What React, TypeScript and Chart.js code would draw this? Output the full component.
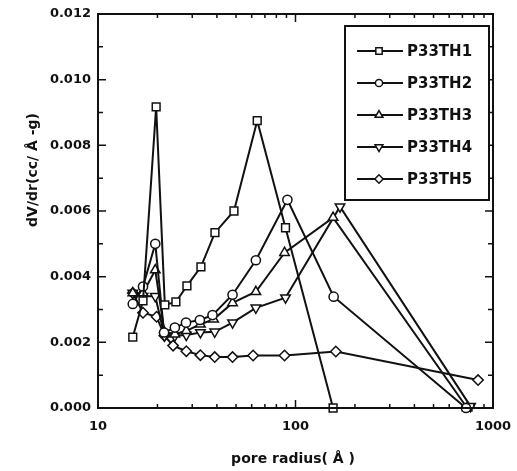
import React, { useEffect, useRef } from 'react';
import { Chart, registerables } from 'chart.js';
import { drawPoint } from 'chart.js/helpers';

Chart.register(...registerables);

const seriesNames = ['P33TH1', 'P33TH2', 'P33TH3', 'P33TH4', 'P33TH5'];

const th1Radius = [15, 16.9, 19.7, 21.8, 24.8, 28.2, 33.2, 39.1, 48.8, 64, 89, 155];
const th1Values = [0.00216, 0.00326, 0.00917, 0.00314, 0.00323, 0.00372, 0.0043, 0.00534, 0.006, 0.00875, 0.00549, 0.0];

const th2Radius = [15, 16.9, 19.5, 21.6, 24.5, 27.9, 32.8, 38, 48, 63, 91, 156, 730];
const th2Values = [0.00317, 0.0037, 0.005, 0.0023, 0.00245, 0.0026, 0.00268, 0.00283, 0.00345, 0.0045, 0.00634, 0.00339, 0.0];

const th3Radius = [15, 16.9, 19.5, 21.7, 24.5, 28, 33, 38.5, 48, 63, 88, 155, 740];
const th3Values = [0.0035, 0.0035, 0.0042, 0.0023, 0.00225, 0.00235, 0.00255, 0.0027, 0.0032, 0.00354, 0.00473, 0.0058, 0.0];

const th4Radius = [15, 16.9, 19.5, 21.7, 24.5, 28, 33, 39, 48, 63, 89, 168, 770];
const th4Values = [0.0035, 0.0034, 0.0034, 0.0022, 0.0022, 0.00222, 0.0023, 0.00232, 0.0026, 0.00305, 0.00336, 0.00613, 0.00005];

const th5Radius = [15, 16.9, 19.8, 21.7, 24, 28, 33, 39, 48, 61, 88, 160, 840];
const th5Values = [0.0035, 0.0029, 0.00278, 0.0022, 0.0019, 0.00173, 0.00161, 0.00155, 0.00155, 0.0016, 0.0016, 0.00172, 0.00085];

const xTickValues = [10, 100, 1000];
const yTickValues = [0, 0.002, 0.004, 0.006, 0.008, 0.01, 0.012];

const xTitle = 'pore radius( Å )';
const yTitle = 'dV/dr(cc/ Å -g)';

const markerStyles = [
  { pointStyle: 'rect', radius: 5.5, rotation: 0 },
  { pointStyle: 'circle', radius: 4.6, rotation: 0 },
  { pointStyle: 'triangle', radius: 5.5, rotation: 0 },
  { pointStyle: 'triangle', radius: 5.5, rotation: 180 },
  { pointStyle: 'rectRot', radius: 5.2, rotation: 0 },
];

const radiusSets = [th1Radius, th2Radius, th3Radius, th4Radius, th5Radius];
const valueSets = [th1Values, th2Values, th3Values, th4Values, th5Values];

const INK = '#111';

const framePlugin = {
  id: 'frame',
  afterDraw(chart: any) {
    const ctx = chart.ctx;
    const { left, right, top, bottom } = chart.chartArea;
    const xs = chart.scales.x;
    const ys = chart.scales.y;
    ctx.save();
    ctx.strokeStyle = INK;
    ctx.lineWidth = 2;
    ctx.strokeRect(left, top, right - left, bottom - top);

    ctx.lineWidth = 1.5;
    ctx.beginPath();
    for (let i = 0; i <= 12; i++) {
      const v = i * 0.001;
      const py = ys.getPixelForValue(v);
      const len = i % 2 === 0 ? 8 : 5;
      ctx.moveTo(left, py);
      ctx.lineTo(left + len, py);
      ctx.moveTo(right, py);
      ctx.lineTo(right - len, py);
    }
    for (let k = 1; k <= 3; k++) {
      for (let m = 1; m <= 9; m++) {
        const v = m * Math.pow(10, k);
        if (v > 1000) break;
        const px = xs.getPixelForValue(v);
        const len = m === 1 ? 8 : 4;
        ctx.moveTo(px, bottom);
        ctx.lineTo(px, bottom - len);
        ctx.moveTo(px, top);
        ctx.lineTo(px, top + len);
      }
    }
    ctx.stroke();

    ctx.fillStyle = INK;
    ctx.font = 'bold 14px "DejaVu Sans"';
    ctx.textAlign = 'center';
    ctx.textBaseline = 'middle';
    ctx.fillText(xTitle, 293, 459);
    ctx.save();
    ctx.translate(33, 170);
    ctx.rotate(-Math.PI / 2);
    ctx.fillText(yTitle, 0, 0);
    ctx.restore();

    const bx = 345, by = 26, bw = 144, bh = 174;
    ctx.fillStyle = '#fff';
    ctx.fillRect(bx, by, bw, bh);
    ctx.lineWidth = 2;
    ctx.strokeStyle = INK;
    ctx.strokeRect(bx, by, bw, bh);
    seriesNames.forEach((name, i) => {
      const y = 51 + i * 32;
      ctx.lineWidth = 2;
      ctx.strokeStyle = INK;
      ctx.beginPath();
      ctx.moveTo(357, y);
      ctx.lineTo(403, y);
      ctx.stroke();
      ctx.fillStyle = '#fff';
      ctx.lineWidth = 1.5;
      const ms = markerStyles[i];
      drawPoint(ctx, { pointStyle: ms.pointStyle, radius: ms.radius - 1, rotation: ms.rotation, borderWidth: 1.5 } as any, 379, y);
      ctx.fillStyle = INK;
      ctx.font = 'bold 15px "DejaVu Sans"';
      ctx.textAlign = 'left';
      ctx.textBaseline = 'middle';
      ctx.fillText(name, 407, y + 1);
    });
    ctx.restore();
  },
};

export default function App() {
  const canvasRef = useRef<HTMLCanvasElement | null>(null);

  useEffect(() => {
    const canvas = canvasRef.current;
    if (!canvas) return;
    const datasets = seriesNames.map((name, i) => ({
      label: name,
      data: radiusSets[i].map((r, j) => ({ x: r, y: valueSets[i][j] })),
      borderColor: INK,
      borderWidth: 2,
      pointStyle: markerStyles[i].pointStyle as any,
      pointRadius: markerStyles[i].radius,
      pointRotation: markerStyles[i].rotation,
      pointBackgroundColor: '#fff',
      pointBorderColor: INK,
      pointBorderWidth: 1.5,
      tension: 0,
      fill: false,
      clip: false as any,
    }));
    const chart = new Chart(canvas, {
      type: 'line',
      data: { datasets },
      plugins: [framePlugin],
      options: {
        responsive: false,
        animation: false,
        events: [],
        layout: { padding: { left: 0, top: 14, right: 24, bottom: 0 } },
        plugins: { legend: { display: false }, tooltip: { enabled: false } },
        scales: {
          x: {
            type: 'logarithmic',
            min: 10,
            max: 1000,
            grid: { display: false, drawTicks: false },
            border: { display: false },
            afterFit: (s: any) => { s.height = 63; s.paddingLeft = 0; s.paddingRight = 0; },
            afterBuildTicks: (s: any) => { s.ticks = xTickValues.map((v) => ({ value: v })); },
            ticks: {
              autoSkip: false,
              maxRotation: 0,
              padding: 11,
              color: INK,
              font: { family: 'DejaVu Sans', size: 13, weight: 'bold' },
              callback: (v: any) => String(v),
            },
          },
          y: {
            type: 'linear',
            min: 0,
            max: 0.012,
            grid: { display: false, drawTicks: false },
            border: { display: false },
            afterFit: (s: any) => { s.width = 98; s.paddingTop = 0; s.paddingBottom = 0; },
            afterBuildTicks: (s: any) => { s.ticks = yTickValues.map((v) => ({ value: v })); },
            ticks: {
              autoSkip: false,
              padding: 7,
              color: INK,
              font: { family: 'DejaVu Sans', size: 13, weight: 'bold' },
              callback: (v: any) => Number(v).toFixed(3),
            },
          },
        },
      },
    });
    return () => chart.destroy();
  }, []);

  return (
    <div style={{ position: 'fixed', left: 0, top: 0, width: 517, height: 471, background: '#fff' }}>
      <canvas ref={canvasRef} width={517} height={471} style={{ display: 'block' }} />
    </div>
  );
}
